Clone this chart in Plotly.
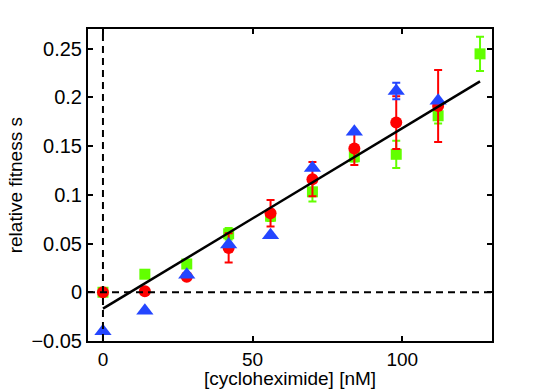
import plotly.graph_objects as go

conc = [0, 14, 28, 42, 56, 70, 84, 98, 112, 126]

# green squares
sq_y = [0.0, 0.0185, 0.029, 0.060, 0.078, 0.103, 0.139, 0.1415, 0.181, 0.2445]
sq_err = [0.003, 0, 0, 0.006, 0.005, 0.010, 0.005, 0.014, 0.008, 0.0175]

# red circles (no point at 126)
circ_x = conc[:9]
circ_y = [0.0, 0.001, 0.016, 0.0455, 0.081, 0.116, 0.1475, 0.174, 0.191]
circ_err = [0, 0, 0.003, 0.015, 0.0135, 0.0175, 0.017, 0.027, 0.037]

# blue triangles
tri_x = conc[:9]
tri_y = [-0.040, -0.019, 0.018, 0.049, 0.0585, 0.1275, 0.1645, 0.2065, 0.1965]
tri_err = [0, 0, 0, 0, 0, 0, 0, 0.0085, 0]

# linear fit
fit_x = [0, 126]
fit_intercept = -0.0168
fit_slope = 0.00185

GREEN = "#62ff00"
RED = "#ff0000"
BLUE = "#2446ff"

fig = go.Figure()

# reference dashed lines
fig.add_hline(y=0, line=dict(color="black", width=2, dash="7px,5px"))
fig.add_vline(x=0, line=dict(color="black", width=2, dash="7px,5px"))

fig.add_trace(go.Scatter(
    x=conc, y=sq_y, mode="markers",
    marker=dict(symbol="square", size=11, color=GREEN),
    error_y=dict(type="data", array=sq_err, color=GREEN, thickness=2, width=4),
))
fig.add_trace(go.Scatter(
    x=circ_x, y=circ_y, mode="markers",
    marker=dict(symbol="circle", size=12, color=RED),
    error_y=dict(type="data", array=circ_err, color=RED, thickness=2, width=4),
))
fig.add_trace(go.Scatter(
    x=tri_x, y=tri_y, mode="markers",
    marker=dict(symbol="triangle-up", size=15, color=BLUE),
    error_y=dict(type="data", array=tri_err, color=BLUE, thickness=2, width=4),
))
fig.add_trace(go.Scatter(
    x=fit_x, y=[fit_intercept + fit_slope * v for v in fit_x],
    mode="lines", line=dict(color="black", width=2.5),
))

axis_common = dict(
    showline=True, linecolor="black", linewidth=2, mirror="ticks",
    ticks="inside", ticklen=5, tickwidth=1.5, tickcolor="black",
    showgrid=False, zeroline=False, automargin=False,
)

fig.update_xaxes(range=[-5, 130], tickvals=[0, 50, 100],
                 tickfont=dict(size=19, color="black"), **axis_common)
fig.update_yaxes(
    range=[-0.05, 0.27], tickvals=[-0.05, 0, 0.05, 0.1, 0.15, 0.2, 0.25],
    ticktext=["−0.05", "0", "0.05", "0.1", "0.15", "0.2", "0.25"],
    tickfont=dict(size=20, color="black"), **axis_common,
)

# axis titles
fig.add_annotation(text="[cycloheximide] [nM]", xref="paper", yref="paper",
                   x=0.5, y=-0.121, showarrow=False, yanchor="middle",
                   borderpad=0, font=dict(size=19, color="black"))
fig.add_annotation(text="relative fitness s", xref="paper", yref="paper",
                   x=-0.18, y=0.5, showarrow=False, textangle=-90,
                   xanchor="center", borderpad=0, font=dict(size=19, color="black"))

fig.update_layout(
    width=545, height=389,
    margin=dict(l=88, r=53, t=29, b=48),
    plot_bgcolor="white", paper_bgcolor="white",
    showlegend=False,
    font=dict(family="Liberation Sans, Arial, Helvetica, sans-serif", color="black"),
)

fig.write_html("out.html", config={"displayModeBar": False},
               post_script="document.body.style.margin='0';")
